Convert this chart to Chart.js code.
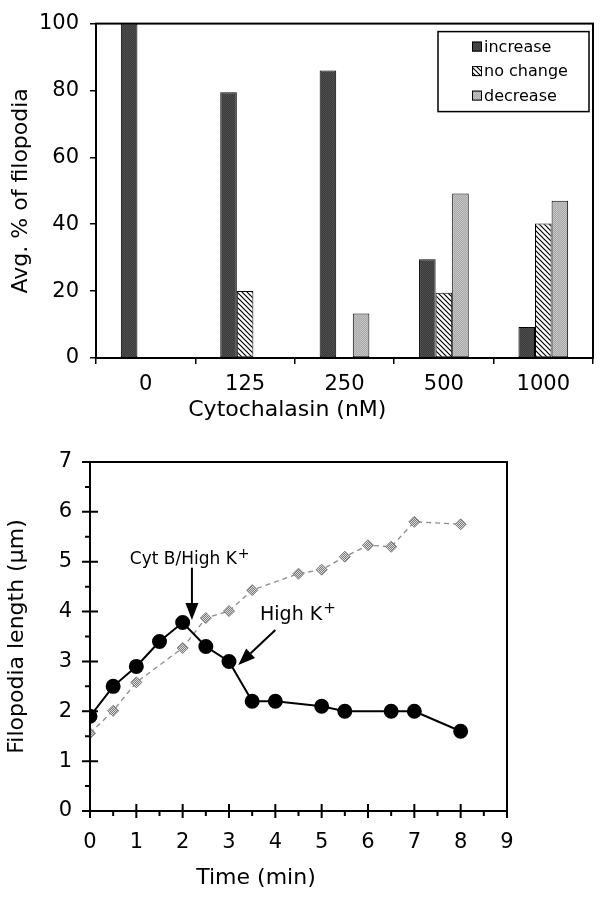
<!DOCTYPE html>
<html>
<head>
<meta charset="utf-8">
<script src="https://cdn.jsdelivr.net/npm/chart.js@4.4.0/dist/chart.umd.min.js"></script>
<style>
  html, body { margin: 0; padding: 0; background: #fff; }
  #wrap { position: relative; width: 601px; height: 900px; }
  #barChart { position: absolute; left: 0; top: 0; }
  #lineChart { position: absolute; left: 0; top: 430px; }
</style>
</head>
<body>
<div id="wrap">
  <canvas id="barChart" width="601" height="430"></canvas>
  <canvas id="lineChart" width="601" height="470"></canvas>
</div>
<script>
// top panel: % of filopodia per cytochalasin dose
const doses = ["0", "125", "250", "500", "1000"];
const increase = [100, 79.5, 86, 29.5, 9.3];
const noChange = [null, 20, null, 19.5, 40.2];
const decrease = [null, null, 13.3, 49.2, 47];

// bottom panel: filopodia length over time
const timeCytB = [0, 0.5, 1, 1.5, 2, 2.5, 3, 3.5, 4, 5, 5.5, 6.5, 7, 8];
const lenCytB  = [1.9, 2.5, 2.9, 3.4, 3.78, 3.3, 3.0, 2.2, 2.2, 2.1, 2.0, 2.0, 2.0, 1.6];
const timeHighK = [0, 0.5, 1, 2, 2.5, 3, 3.5, 4.5, 5, 5.5, 6, 6.5, 7, 8];
const lenHighK  = [1.56, 2.01, 2.58, 3.27, 3.87, 4.01, 4.43, 4.76, 4.84, 5.1, 5.33, 5.3, 5.8, 5.75];

// arrows + labels, in data units of the bottom panel
const arrows = [
  { from: [2.2, 4.88], to: [2.2, 3.83] },
  { from: [4.0, 3.63], to: [3.2, 2.93] }
];
const notes = [
  { text: "Cyt B/High K", sup: "+", at: [0.86, 4.95], size: 17 },
  { text: "High K", sup: "+", at: [3.67, 3.83], size: 19 }
];

const FONT = '"DejaVu Sans", "Liberation Sans", sans-serif';
Chart.defaults.font.family = FONT;
Chart.defaults.color = "#000";

function stipple(a, b) {
  const c = document.createElement("canvas");
  c.width = c.height = 2;
  const g = c.getContext("2d");
  g.fillStyle = a; g.fillRect(0, 0, 2, 2);
  g.fillStyle = b; g.fillRect(0, 0, 1, 1); g.fillRect(1, 1, 1, 1);
  return g.createPattern(c, "repeat");
}

function hatch() {
  const c = document.createElement("canvas");
  c.width = c.height = 5;
  const g = c.getContext("2d");
  g.fillStyle = "#fff"; g.fillRect(0, 0, 5, 5);
  g.strokeStyle = "#000"; g.lineWidth = 1.2;
  g.beginPath();
  g.moveTo(-1, -1); g.lineTo(6, 6);
  g.moveTo(4, -1); g.lineTo(6, 1);
  g.moveTo(-1, 4); g.lineTo(1, 6);
  g.stroke();
  return g.createPattern(c, "repeat");
}

const frame = {
  id: "frame",
  afterDraw(chart, args, o) {
    const { ctx, chartArea: a } = chart;
    ctx.save();
    ctx.strokeStyle = "#000";
    ctx.lineWidth = o.width || 2;
    ctx.strokeRect(a.left, a.top, a.right - a.left, a.bottom - a.top);
    ctx.restore();
  }
};

const xTitle = {
  id: "xTitle",
  afterDraw(chart, args, o) {
    const { ctx, chartArea: a } = chart;
    ctx.save();
    ctx.font = o.size + "px " + FONT;
    ctx.fillStyle = "#000";
    ctx.textAlign = "center";
    ctx.textBaseline = "middle";
    ctx.fillText(o.text, a.left + o.at * (a.right - a.left), o.y);
    ctx.restore();
  }
};

const boxLegend = {
  id: "boxLegend",
  afterDraw(chart, args, o) {
    const { ctx, chartArea: a } = chart;
    const x = a.right - o.right - o.width, y = a.top + o.top;
    ctx.save();
    ctx.fillStyle = "#fff";
    ctx.fillRect(x, y, o.width, o.height);
    ctx.strokeStyle = "#000";
    ctx.lineWidth = 1.5;
    ctx.strokeRect(x, y, o.width, o.height);
    ctx.font = "16px " + FONT;
    ctx.textBaseline = "middle";
    chart.data.datasets.forEach((ds, i) => {
      const cy = y + o.rowStart + i * o.rowGap;
      ctx.fillStyle = ds.backgroundColor;
      ctx.fillRect(x + o.pad, cy - 5, 10, 10);
      ctx.lineWidth = 1;
      ctx.strokeRect(x + o.pad + 0.5, cy - 4.5, 9, 9);
      ctx.fillStyle = "#000";
      ctx.fillText(ds.label, x + o.pad + 12, cy + 1);
    });
    ctx.restore();
  }
};

// ticks that cross the axis on integers, short outer ticks on halves
const crossTicks = {
  id: "crossTicks",
  afterDraw(chart) {
    const { ctx } = chart;
    const xs = chart.scales.x, ys = chart.scales.y;
    const ax = chart.chartArea.left, ay = chart.chartArea.bottom;
    ctx.save();
    ctx.strokeStyle = "#000";
    ctx.lineWidth = 2;
    ctx.beginPath();
    for (let v = xs.min; v <= xs.max; v += 0.5) {
      const px = xs.getPixelForValue(v);
      const major = Number.isInteger(v);
      ctx.moveTo(px, major ? ay - 7 : ay);
      ctx.lineTo(px, ay + (major ? 7 : 5));
    }
    for (let v = ys.min; v <= ys.max; v += 0.5) {
      const py = ys.getPixelForValue(v);
      const major = Number.isInteger(v);
      ctx.moveTo(ax - (major ? 8 : 5), py);
      ctx.lineTo(major ? ax + 8 : ax, py);
    }
    ctx.stroke();
    ctx.restore();
  }
};

const callouts = {
  id: "callouts",
  afterDatasetsDraw(chart) {
    const { ctx } = chart;
    const xs = chart.scales.x, ys = chart.scales.y;
    ctx.save();
    ctx.strokeStyle = "#000";
    ctx.fillStyle = "#000";
    ctx.lineWidth = 2;
    arrows.forEach(ar => {
      const x0 = xs.getPixelForValue(ar.from[0]), y0 = ys.getPixelForValue(ar.from[1]);
      const x1 = xs.getPixelForValue(ar.to[0]), y1 = ys.getPixelForValue(ar.to[1]);
      const ang = Math.atan2(y1 - y0, x1 - x0);
      const len = 17, half = 6.5;
      const bx = x1 - len * Math.cos(ang), by = y1 - len * Math.sin(ang);
      ctx.beginPath();
      ctx.moveTo(x0, y0);
      ctx.lineTo(bx, by);
      ctx.stroke();
      ctx.beginPath();
      ctx.moveTo(x1, y1);
      ctx.lineTo(bx + half * Math.sin(ang), by - half * Math.cos(ang));
      ctx.lineTo(bx - half * Math.sin(ang), by + half * Math.cos(ang));
      ctx.closePath();
      ctx.fill();
    });
    ctx.textBaseline = "alphabetic";
    notes.forEach(n => {
      const px = xs.getPixelForValue(n.at[0]), py = ys.getPixelForValue(n.at[1]);
      ctx.font = n.size + "px " + FONT;
      ctx.fillText(n.text, px, py);
      const w = ctx.measureText(n.text).width;
      ctx.font = Math.round(n.size * 0.8) + "px " + FONT;
      ctx.fillText(n.sup, px + w + 1, py - n.size * 0.38);
    });
    ctx.restore();
  }
};

const barFill = {
  inc: stipple("#3a3a3a", "#4e4e4e"),
  none: hatch(),
  dec: stipple("#ababab", "#c2c2c2")
};

new Chart(document.getElementById("barChart"), {
  type: "bar",
  data: {
    labels: doses,
    datasets: [
      { label: "increase", data: increase, backgroundColor: barFill.inc },
      { label: "no change", data: noChange, backgroundColor: barFill.none },
      { label: "decrease", data: decrease, backgroundColor: barFill.dec }
    ].map(d => Object.assign(d, {
      borderColor: "#000", borderWidth: 1, borderSkipped: false,
      barPercentage: 1, categoryPercentage: 0.5
    }))
  },
  options: {
    responsive: false,
    animation: false,
    layout: { padding: { top: 20, right: 8, left: 0, bottom: 0 } },
    plugins: {
      legend: { display: false },
      tooltip: { enabled: false },
      frame: { width: 2 },
      xTitle: { text: "Cytochalasin (nM)", at: 0.385, y: 410, size: 22 },
      boxLegend: { right: 4, top: 8, width: 151, height: 80, pad: 34, rowStart: 15, rowGap: 24.5 }
    },
    scales: {
      x: {
        grid: { drawOnChartArea: false, tickLength: 6, color: "#000", lineWidth: 1.5, offset: true },
        border: { color: "#000", width: 2 },
        ticks: { font: { size: 21 }, color: "#000", padding: 8, maxRotation: 0 },
        afterFit: s => { s.height = 72; }
      },
      y: {
        min: 0, max: 100,
        grid: { drawOnChartArea: false, tickLength: 6, color: "#000", lineWidth: 1.5 },
        border: { color: "#000", width: 2 },
        ticks: { stepSize: 20, font: { size: 21 }, color: "#000", padding: 11 },
        title: { display: true, text: "Avg. % of filopodia", font: { size: 22 }, padding: { top: 8, bottom: 0 } },
        afterFit: s => { s.width = 96; }
      }
    }
  },
  plugins: [frame, xTitle, boxLegend]
});

new Chart(document.getElementById("lineChart"), {
  type: "line",
  data: {
    datasets: [
      {
        label: "Cyt B / High K+",
        data: timeCytB.map((t, i) => ({ x: t, y: lenCytB[i] })),
        borderColor: "#000", borderWidth: 2,
        pointRadius: 6.5, pointBackgroundColor: "#000", pointBorderColor: "#000",
        tension: 0
      },
      {
        label: "High K+",
        data: timeHighK.map((t, i) => ({ x: t, y: lenHighK[i] })),
        borderColor: "#8c8c8c", borderWidth: 1.3, borderDash: [5, 4],
        pointStyle: "rectRot", pointRadius: 5.5,
        pointBackgroundColor: stipple("#7a7a7a", "#dcdcdc"),
        pointBorderColor: "#7a7a7a", pointBorderWidth: 1,
        tension: 0
      }
    ]
  },
  options: {
    responsive: false,
    animation: false,
    layout: { padding: { top: 32, right: 94, left: 0, bottom: 0 } },
    plugins: {
      legend: { display: false },
      tooltip: { enabled: false },
      frame: { width: 2 },
      xTitle: { text: "Time (min)", at: 0.398, y: 448, size: 22 }
    },
    scales: {
      x: {
        type: "linear", min: 0, max: 9,
        grid: { display: false, drawTicks: false },
        border: { color: "#000", width: 2 },
        ticks: { stepSize: 1, font: { size: 21 }, color: "#000", padding: 19 },
        afterFit: s => { s.height = 89; }
      },
      y: {
        min: 0, max: 7,
        grid: { display: false, drawTicks: false },
        border: { color: "#000", width: 2 },
        ticks: { stepSize: 1, font: { size: 21 }, color: "#000", padding: 18 },
        title: { display: true, text: "Filopodia length (μm)", font: { size: 22 }, padding: { top: 4, bottom: 0 } },
        afterFit: s => { s.width = 90; }
      }
    }
  },
  plugins: [frame, xTitle, crossTicks, callouts]
});
</script>
</body>
</html>
